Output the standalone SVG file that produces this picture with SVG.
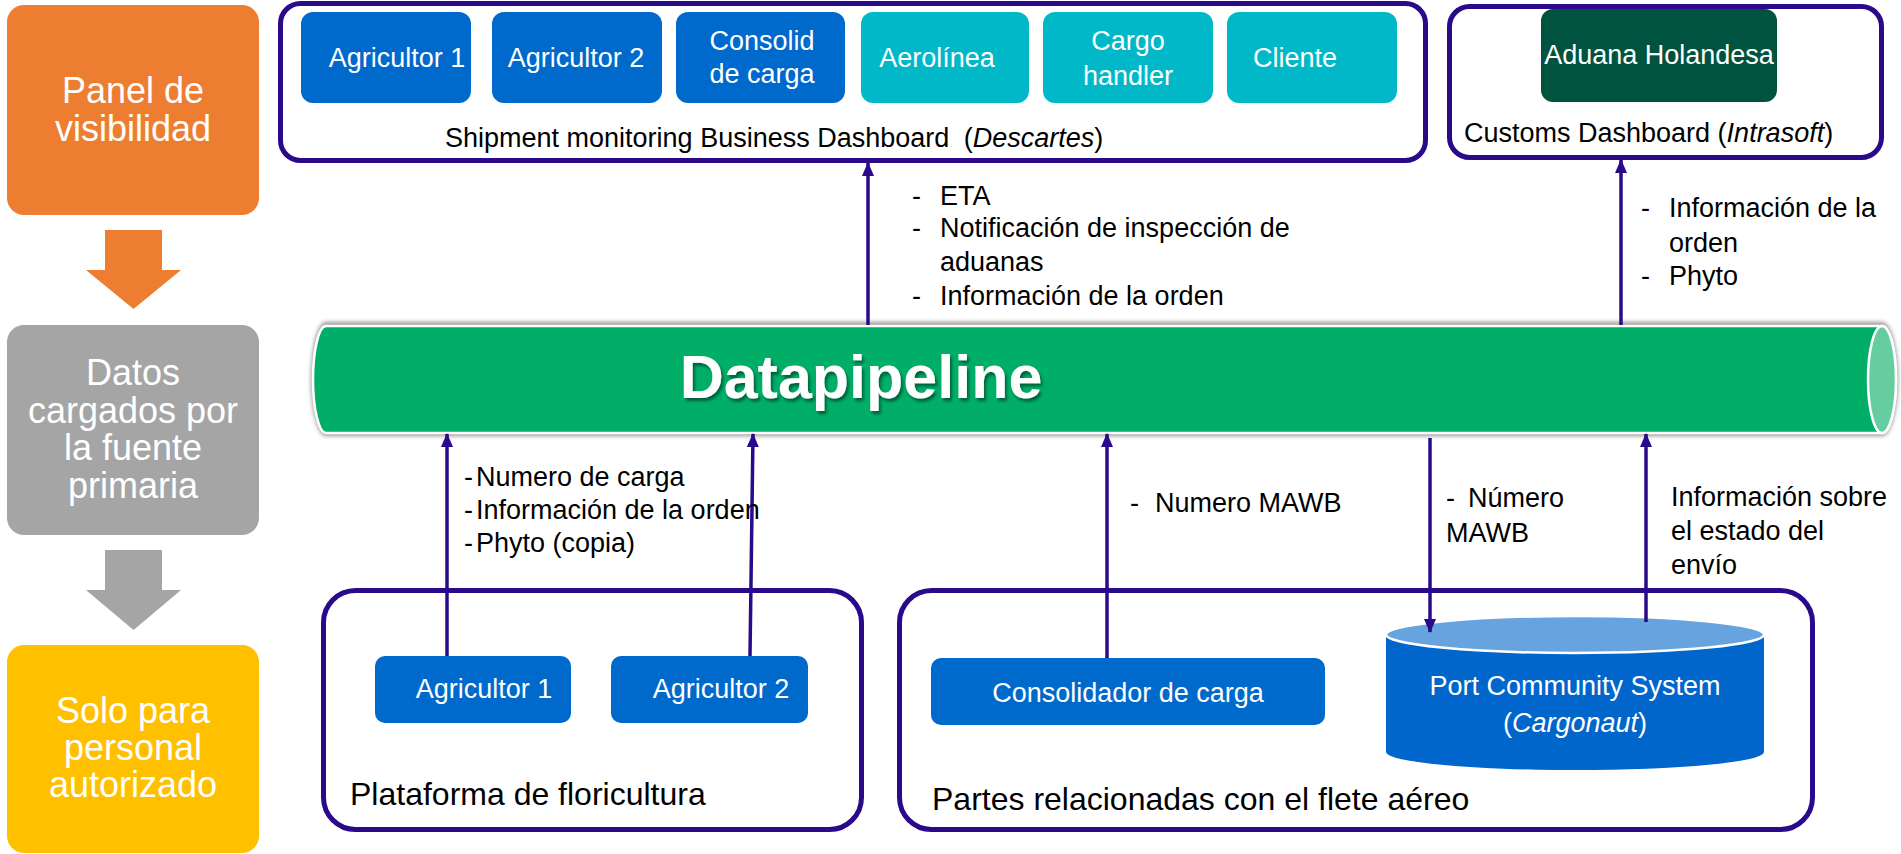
<svg xmlns="http://www.w3.org/2000/svg" width="1901" height="854" viewBox="0 0 1901 854">
<defs>
<style>
text{font-family:"Liberation Sans",Arial,sans-serif;}
.side{font-size:36px;fill:#fff;text-anchor:middle;}
.box{font-size:27px;fill:#fff;text-anchor:middle;}
.lbl{font-size:27px;fill:#000;}
.big{font-size:32px;fill:#000;}
.cont{fill:#fff;stroke:#2A0A8A;stroke-width:5;}
.blue{fill:#0069CC;}
.teal{fill:#00B8C8;}
.conn{stroke:#2A0A8A;stroke-width:3.5;fill:none;marker-end:url(#ah);}
</style>
<marker id="ah" markerUnits="userSpaceOnUse" markerWidth="14" markerHeight="14" viewBox="0 0 14 14" refX="13" refY="7" orient="auto">
<path d="M0,1 L14,7 L0,13 Z" fill="#2A0A8A"/>
</marker>
<filter id="blur" x="-5%" y="-20%" width="110%" height="140%"><feGaussianBlur stdDeviation="2"/></filter>
<filter id="tshadow" x="-10%" y="-20%" width="120%" height="150%"><feDropShadow dx="2" dy="3" stdDeviation="1.5" flood-color="#000" flood-opacity="0.45"/></filter>
</defs>
<rect width="1901" height="854" fill="#fff"/>

<g id="legend-panel">
<rect x="7" y="5" width="252" height="210" rx="17" fill="#ED7D31"/>
<text class="side" x="133" y="103">Panel de</text>
<text class="side" x="133" y="141">visibilidad</text>
</g>
<g id="legend-arrow1">
<path d="M105,230 H162 V270 H181 L133.5,309 L86,270 H105 Z" fill="#ED7D31"/>
</g>
<g id="legend-datos">
<rect x="7" y="325" width="252" height="210" rx="17" fill="#A5A5A5"/>
<text class="side" x="133" y="385">Datos</text>
<text class="side" x="133" y="423">cargados por</text>
<text class="side" x="133" y="460">la fuente</text>
<text class="side" x="133" y="498">primaria</text>
</g>
<g id="legend-arrow2">
<path d="M105,550 H162 V590 H181 L133.5,630 L86,590 H105 Z" fill="#A5A5A5"/>
</g>
<g id="legend-solo">
<rect x="7" y="645" width="252" height="208" rx="17" fill="#FFC000"/>
<text class="side" x="133" y="723">Solo para</text>
<text class="side" x="133" y="760">personal</text>
<text class="side" x="133" y="797">autorizado</text>
</g>

<g id="business-dashboard">
<rect class="cont" x="280.5" y="3.5" width="1145" height="157" rx="20"/>
<text class="lbl" x="445" y="147">Shipment monitoring Business Dashboard <tspan dx="7">(</tspan><tspan font-style="italic">Descartes</tspan>)</text>
</g>
<g id="top-agricultor1"><rect class="blue" x="301" y="12" width="170" height="91" rx="12"/><text class="box" x="397" y="67">Agricultor 1</text></g>
<g id="top-agricultor2"><rect class="blue" x="492" y="12" width="170" height="91" rx="12"/><text class="box" x="576" y="67">Agricultor 2</text></g>
<g id="top-consolid"><rect class="blue" x="676" y="12" width="169" height="91" rx="12"/><text class="box" x="762" y="50">Consolid</text><text class="box" x="762" y="83">de carga</text></g>
<g id="top-aerolinea"><rect class="teal" x="861" y="12" width="168" height="91" rx="12"/><text class="box" x="937" y="67">Aerolínea</text></g>
<g id="top-cargohandler"><rect class="teal" x="1043" y="12" width="170" height="91" rx="12"/><text class="box" x="1128" y="50">Cargo</text><text class="box" x="1128" y="85">handler</text></g>
<g id="top-cliente"><rect class="teal" x="1227" y="12" width="170" height="91" rx="12"/><text class="box" x="1295" y="67">Cliente</text></g>

<g id="customs-dashboard">
<rect class="cont" x="1449.5" y="6.5" width="432" height="151" rx="20"/>
<text class="lbl" x="1464" y="142">Customs Dashboard (<tspan font-style="italic">Intrasoft</tspan>)</text>
</g>
<g id="aduana"><rect x="1541" y="9" width="236" height="93" rx="12" fill="#00543F"/><text class="box" x="1659" y="64">Aduana Holandesa</text></g>

<g id="datapipeline">
<path d="M326,322 L1882,322 A16,57 0 0 1 1882,436 L326,436 A15,57 0 0 1 326,322 Z" fill="#9a9a9a" filter="url(#blur)"/>
<path d="M326,326 L1882,326 A14,53.5 0 0 1 1882,433 L326,433 A13,53.5 0 0 1 326,326 Z" fill="#00AE68" stroke="#fff" stroke-width="2.5"/>
<ellipse cx="1882" cy="379.5" rx="14" ry="53.5" fill="#66CDA1" stroke="#fff" stroke-width="2.5"/>
<text x="861" y="398" font-size="61" font-weight="bold" fill="#fff" text-anchor="middle" filter="url(#tshadow)">Datapipeline</text>
</g>

<g id="plataforma">
<rect class="cont" x="323.5" y="590.5" width="538" height="239" rx="32"/>
<text class="big" x="350" y="805">Plataforma de floricultura</text>
</g>
<g id="bot-agricultor1"><rect class="blue" x="375" y="656" width="196" height="67" rx="10"/><text class="box" x="484" y="698">Agricultor 1</text></g>
<g id="bot-agricultor2"><rect class="blue" x="611" y="656" width="197" height="67" rx="10"/><text class="box" x="721" y="698">Agricultor 2</text></g>

<g id="partes">
<rect class="cont" x="899.5" y="590.5" width="913" height="239" rx="32"/>
<text class="big" x="932" y="810">Partes relacionadas con el flete aéreo</text>
</g>
<g id="consolidador"><rect class="blue" x="931" y="658" width="394" height="67" rx="10"/><text class="box" x="1128" y="702">Consolidador de carga</text></g>
<g id="pcs">
<path d="M1386,634.5 L1386,752 A189,18 0 0 0 1764,752 L1764,634.5 Z" fill="#0066CC"/>
<ellipse cx="1575" cy="634.5" rx="189" ry="18.5" fill="#66A3DF" stroke="#fff" stroke-width="2.5"/>
<text class="box" x="1575" y="695">Port Community System</text>
<text class="box" x="1575" y="732">(<tspan font-style="italic">Cargonaut</tspan>)</text>
</g>

<g id="connectors">
<line class="conn" x1="868" y1="325" x2="868" y2="163"/>
<line class="conn" x1="1621" y1="325" x2="1621" y2="160"/>
<line class="conn" x1="447" y1="656" x2="447" y2="434"/>
<line class="conn" x1="750" y1="656" x2="753" y2="434"/>
<line class="conn" x1="1107" y1="658" x2="1107" y2="434"/>
<line class="conn" x1="1430" y1="438" x2="1430" y2="632"/>
<line class="conn" x1="1646" y1="622" x2="1646" y2="434"/>
</g>

<g id="labels">
<text class="lbl" x="912" y="205">-</text><text class="lbl" x="940" y="205">ETA</text>
<text class="lbl" x="912" y="237">-</text><text class="lbl" x="940" y="237">Notificación de inspección de</text>
<text class="lbl" x="940" y="271">aduanas</text>
<text class="lbl" x="912" y="305">-</text><text class="lbl" x="940" y="305">Información de la orden</text>

<text class="lbl" x="1641" y="217">-</text><text class="lbl" x="1669" y="217">Información de la</text>
<text class="lbl" x="1669" y="252">orden</text>
<text class="lbl" x="1641" y="285">-</text><text class="lbl" x="1669" y="285">Phyto</text>

<text class="lbl" x="464" y="486">-</text><text class="lbl" x="476" y="486">Numero de carga</text>
<text class="lbl" x="464" y="519">-</text><text class="lbl" x="476" y="519">Información de la orden</text>
<text class="lbl" x="464" y="552">-</text><text class="lbl" x="476" y="552">Phyto (copia)</text>

<text class="lbl" x="1130" y="512">-</text><text class="lbl" x="1155" y="512">Numero MAWB</text>

<text class="lbl" x="1446" y="507">-</text><text class="lbl" x="1468" y="507">Número</text>
<text class="lbl" x="1446" y="542">MAWB</text>

<text class="lbl" x="1671" y="506">Información sobre</text>
<text class="lbl" x="1671" y="540">el estado del</text>
<text class="lbl" x="1671" y="574">envío</text>
</g>
</svg>
